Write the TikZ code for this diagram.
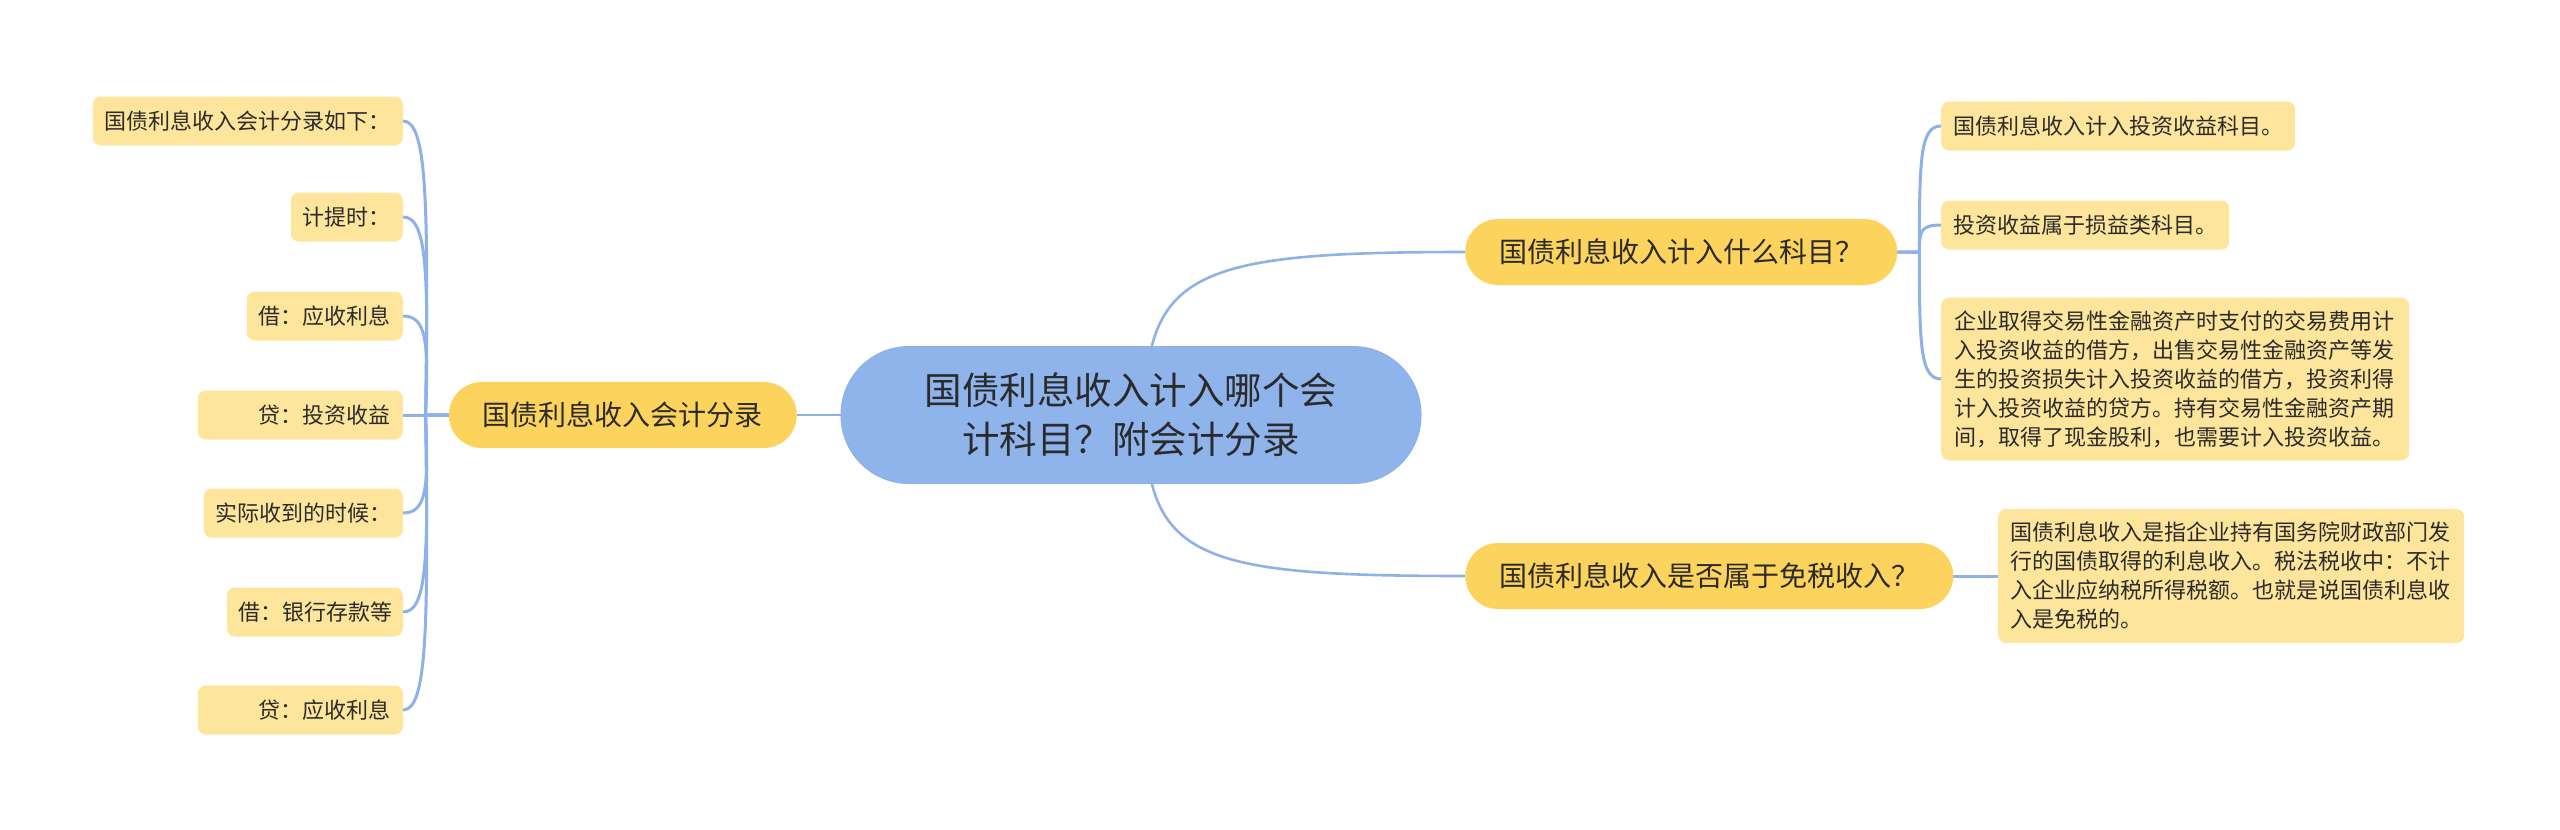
\documentclass[tikz,border=0pt]{standalone}
\usepackage{fontspec}
\setmainfont{Noto Sans CJK SC}
\usetikzlibrary{backgrounds}
\definecolor{lineblue}{HTML}{8EB1E8}
\definecolor{rootblue}{HTML}{8FB4EC}
\definecolor{gold}{HTML}{FCD35C}
\definecolor{leafy}{HTML}{FEE59C}
\definecolor{txt}{HTML}{2B2B2B}
\tikzset{
  rootnode/.style={fill=rootblue, draw=lineblue, line width=1pt, rounded corners=68pt, minimum width=580pt, minimum height=137pt, align=center, font=\fontsize{37.5}{49}\selectfont, text=txt, inner sep=0pt},
  midnode/.style={fill=gold, rounded corners=33pt, minimum height=66pt, inner xsep=34pt, inner ysep=0pt, font=\fontsize{28}{34}\selectfont, text=txt},
  leafnode/.style={fill=leafy, rounded corners=8pt, minimum height=49pt, inner xsep=12pt, inner ysep=0pt, font=\fontsize{22}{29}\selectfont, text=txt},
  leafL/.style={leafnode, align=right, anchor=east},
  leafR/.style={leafnode, align=left, anchor=west},
  link/.style={draw=lineblue, line width=3pt},
  rootlink/.style={draw=lineblue, line width=2.6pt},
}
\begin{document}
\begin{tikzpicture}[x=1pt,y=-1pt]
\useasboundingbox (0,0) rectangle (2560,830);

\node[rootnode] (root) at (1131,415) {国债利息收入计入哪个会\\计科目？附会计分录};
\node[midnode, anchor=east] (L) at (797,415) {国债利息收入会计分录};
\node[midnode, anchor=west] (RA) at (1465,252) {国债利息收入计入什么科目？};
\node[midnode, anchor=west] (RB) at (1465,576) {国债利息收入是否属于免税收入？};

\node[leafL, text width=286pt] (l1) at (403,121) {国债利息收入会计分录如下：};
\node[leafL, text width=88pt] (l2) at (403,217) {计提时：};
\node[leafL, text width=132pt] (l3) at (403,316) {借：应收利息};
\node[leafL, text width=181pt] (l4) at (403,415) {贷：投资收益};
\node[leafL, text width=175pt] (l5) at (403,513) {实际收到的时候：};
\node[leafL, text width=152pt] (l6) at (403,612) {借：银行存款等};
\node[leafL, text width=181pt] (l7) at (403,710) {贷：应收利息};

\node[leafR] (r1) at (1941,126) {国债利息收入计入投资收益科目。};
\node[leafR] (r2) at (1941,225) {投资收益属于损益类科目。};
\node[leafR, text width=442pt, inner xsep=13pt, minimum height=163pt] (r3) at (1941,379) {企业取得交易性金融资产时支付的交易费用计\\入投资收益的借方，出售交易性金融资产等发\\生的投资损失计入投资收益的借方，投资利得\\计入投资收益的贷方。持有交易性金融资产期\\间，取得了现金股利，也需要计入投资收益。};
\node[leafR, text width=442pt, inner xsep=12pt, minimum height=134pt] (r4) at (1998,576) {国债利息收入是指企业持有国务院财政部门发\\行的国债取得的利息收入。税法税收中：不计\\入企业应纳税所得税额。也就是说国债利息收\\入是免税的。};

\begin{scope}[on background layer]
  \draw[rootlink] (root.west) -- (L.east);
  \draw[rootlink] ([xshift=14pt,yshift=15pt]root.center) .. controls +(5,-130) and +(-260,0) .. (RA.west);
  \draw[rootlink] ([xshift=14pt,yshift=-15pt]root.center) .. controls +(5,130) and +(-260,0) .. (RB.west);
  \foreach \n/\d in {l1/-215,l2/-145,l3/-72,l5/72,l6/144,l7/215}
    \draw[link] (L.west) -- ++(-23,0) .. controls +(3,\d) and +(24,0) .. (\n.east);
  \draw[link] (L.west) -- (l4.east);
  \foreach \n/\d in {r1/-92,r2/-20,r3/92}
    \draw[link] (RA.east) -- ++(22,0) .. controls +(0,\d) and +(-21,0) .. (\n.west);
  \draw[link] (RB.east) -- (r4.west);
\end{scope}
\end{tikzpicture}
\end{document}
